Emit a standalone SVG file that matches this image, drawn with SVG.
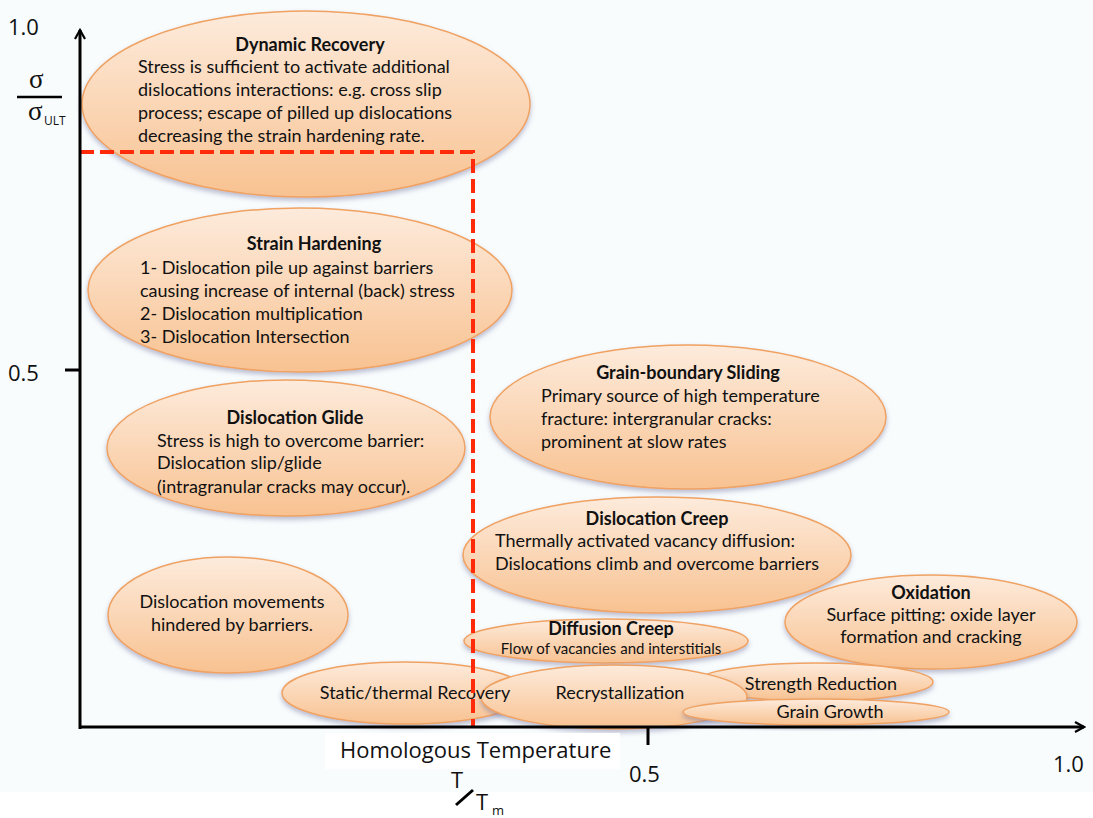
<svg xmlns="http://www.w3.org/2000/svg" width="1093" height="818" viewBox="0 0 1093 818">
<defs>
  <linearGradient id="g" x1="0" y1="0" x2="0" y2="1">
    <stop offset="0" stop-color="#fdebdc"/>
    <stop offset="1" stop-color="#f8c291"/>
  </linearGradient>
  <filter id="sh" x="-10%" y="-10%" width="120%" height="130%">
    <feDropShadow dx="0" dy="3" stdDeviation="2.5" flood-color="#6a6f9a" flood-opacity="0.45"/>
  </filter>
  <marker id="arr" viewBox="0 0 12 12" refX="10" refY="6" markerWidth="12" markerHeight="12" markerUnits="userSpaceOnUse" orient="auto">
    <path d="M1,1 L10,6 L1,11" fill="none" stroke="#000" stroke-width="2.2"/>
  </marker>
  <style>
    .e{fill:url(#g);stroke:#efa262;stroke-width:1.5;filter:url(#sh)}
    .t{font-family:Lato,"Open Sans",sans-serif;font-size:18px;fill:#111}
    .b{font-weight:bold}
    .c{text-anchor:middle}
    .ax{font-family:"Open Sans","Liberation Sans",sans-serif;font-size:22px;fill:#111}
    .gr{font-family:"Liberation Serif",serif;font-size:27px;fill:#111}
  </style>
</defs>
<rect width="1093" height="818" fill="#f8fcfd"/>
<rect x="0" y="792" width="1093" height="26" fill="#ffffff"/>

<g id="dynamic-recovery">
  <ellipse class="e" cx="306" cy="104" rx="224" ry="93"/>
  <text class="t b c" x="310" y="51">Dynamic Recovery</text>
  <text class="t" x="138" y="73">Stress is sufficient to activate additional</text>
  <text class="t" x="138" y="96">dislocations interactions: e.g. cross slip</text>
  <text class="t" x="138" y="119">process; escape of pilled up dislocations</text>
  <text class="t" x="138" y="142">decreasing the strain hardening rate.</text>
</g>
<g id="strain-hardening">
  <ellipse class="e" cx="300" cy="290" rx="212" ry="82"/>
  <text class="t b c" x="314" y="250">Strain Hardening</text>
  <text class="t" x="140" y="274">1- Dislocation pile up against barriers</text>
  <text class="t" x="140" y="297">causing increase of internal (back) stress</text>
  <text class="t" x="140" y="320">2- Dislocation multiplication</text>
  <text class="t" x="140" y="343">3- Dislocation Intersection</text>
</g>
<g id="dislocation-glide">
  <ellipse class="e" cx="286" cy="448" rx="179" ry="68"/>
  <text class="t b c" x="295" y="424">Dislocation Glide</text>
  <text class="t" x="157" y="447">Stress is high to overcome barrier:</text>
  <text class="t" x="157" y="469">Dislocation slip/glide</text>
  <text class="t" x="157" y="493">(intragranular cracks may occur).</text>
</g>
<g id="dislocation-movements">
  <ellipse class="e" cx="228" cy="615" rx="120" ry="58"/>
  <text class="t c" x="232" y="608">Dislocation movements</text>
  <text class="t c" x="232" y="631">hindered by barriers.</text>
</g>
<g id="grain-boundary-sliding">
  <ellipse class="e" cx="688" cy="417" rx="198" ry="72"/>
  <text class="t b c" x="688" y="379">Grain-boundary Sliding</text>
  <text class="t" x="541" y="402">Primary source of high temperature</text>
  <text class="t" x="541" y="425">fracture: intergranular cracks:</text>
  <text class="t" x="541" y="448">prominent at slow rates</text>
</g>
<g id="dislocation-creep">
  <ellipse class="e" cx="657" cy="555" rx="194" ry="58"/>
  <text class="t b c" x="657" y="525">Dislocation Creep</text>
  <text class="t" x="495" y="547">Thermally activated vacancy diffusion:</text>
  <text class="t" x="495" y="570">Dislocations climb and overcome barriers</text>
</g>
<g id="oxidation">
  <ellipse class="e" cx="931" cy="622" rx="146" ry="47"/>
  <text class="t b c" x="931" y="599">Oxidation</text>
  <text class="t c" x="931" y="621">Surface pitting: oxide layer</text>
  <text class="t c" x="931" y="643">formation and cracking</text>
</g>
<g id="static-recovery">
  <ellipse class="e" cx="405" cy="693" rx="123" ry="31"/>
</g>
<g id="strength-reduction">
  <ellipse class="e" cx="815" cy="682" rx="118" ry="19"/>
  <text class="t c" x="821" y="690">Strength Reduction</text>
</g>
<g id="diffusion-creep">
  <ellipse class="e" cx="606" cy="641" rx="142" ry="22"/>
  <text class="t b c" x="611" y="635">Diffusion Creep</text>
  <text class="t c" x="611" y="654" style="font-size:15px">Flow of vacancies and interstitials</text>
</g>
<g id="recrystallization">
  <ellipse class="e" cx="614" cy="697" rx="133" ry="32"/>
  <text class="t c" x="620" y="699">Recrystallization</text>
</g>
<g id="static-recovery-label">
  <text class="t c" x="415" y="699">Static/thermal Recovery</text>
</g>
<g id="grain-growth">
  <ellipse class="e" cx="816" cy="712" rx="133" ry="13"/>
  <text class="t c" x="830" y="718">Grain Growth</text>
</g>

<g id="connectors">
  <path d="M80,152 H473 V727" fill="none" stroke="#ff2a0a" stroke-width="4" stroke-dasharray="14 6"/>
  <line x1="80" y1="729" x2="80" y2="30" stroke="#000" stroke-width="3" marker-end="url(#arr)"/>
  <line x1="79" y1="727" x2="1084" y2="727" stroke="#000" stroke-width="3" marker-end="url(#arr)"/>
  <line x1="65" y1="370" x2="80" y2="370" stroke="#000" stroke-width="3"/>
  <line x1="648" y1="727" x2="648" y2="745" stroke="#000" stroke-width="3"/>
</g>

<g id="axis-labels">
  <text class="ax" x="8" y="35">1.0</text>
  <text class="gr" x="29" y="88">σ</text>
  <line x1="17" y1="97" x2="62" y2="97" stroke="#000" stroke-width="2.5"/>
  <text class="gr" x="28" y="120">σ</text>
  <text class="ax" x="44" y="125" style="font-size:12px">ULT</text>
  <text class="ax" x="8" y="381">0.5</text>
  <rect x="325" y="733" width="295" height="36" fill="#ffffff"/>
  <text class="ax" x="340" y="758">Homologous Temperature</text>
  <text class="ax" x="629" y="782">0.5</text>
  <text class="ax" x="1053" y="772">1.0</text>
  <text class="ax" x="451" y="788">T</text>
  <line x1="456" y1="805" x2="473" y2="790" stroke="#000" stroke-width="3"/>
  <text class="ax" x="476" y="810">T</text>
  <text class="ax" x="492" y="815" style="font-size:13px">m</text>
</g>
</svg>
